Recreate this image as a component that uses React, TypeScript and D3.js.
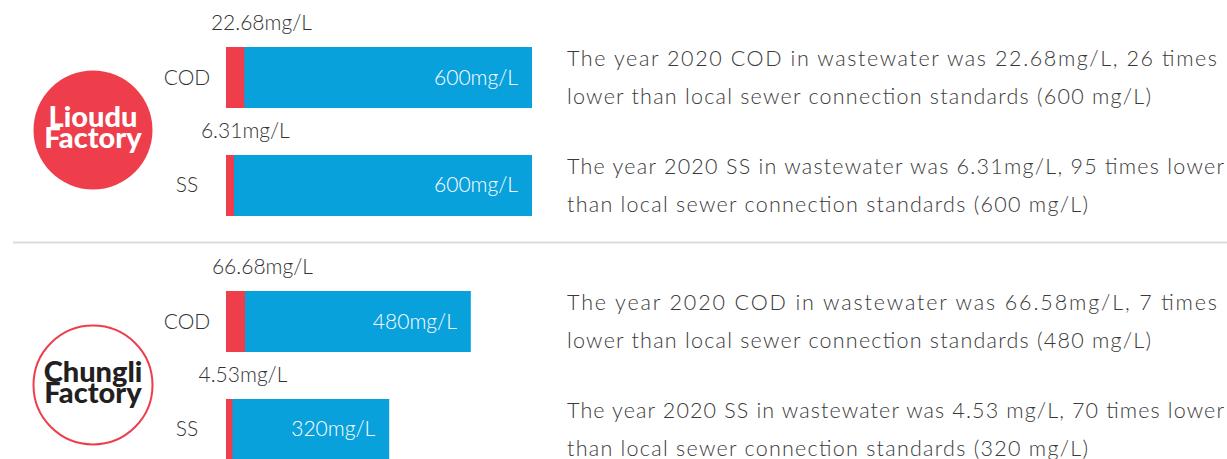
import React from 'react'
import { scaleLinear, scaleBand, scalePow } from 'd3'

// factories and the two measured pollutants
const factories = ['Lioudu Factory', 'Chungli Factory']
const pollutants = ['COD', 'SS']
const measured = [
  [22.68, 6.31],
  [66.68, 4.53],
]
const standards = [
  [600, 600],
  [480, 320],
]
const descriptions = [
  [
    ['The year 2020 COD in wastewater was 22.68mg/L, 26 times', 'lower than local sewer connection standards (600 mg/L)'],
    ['The year 2020 SS in wastewater was 6.31mg/L, 95 times lower', 'than local sewer connection standards (600 mg/L)'],
  ],
  [
    ['The year 2020 COD in wastewater was 66.58mg/L, 7 times', 'lower than local sewer connection standards (480 mg/L)'],
    ['The year 2020 SS in wastewater was 4.53 mg/L, 70 times lower', 'than local sewer connection standards (320 mg/L)'],
  ],
]

const RED = '#EE3E4C'
const BLUE = '#09A1DC'
const FONT = 'Lato, "Open Sans", sans-serif'

function App() {
  const width = 1227,
    height = 459,
    barX = 226,
    labelX = 187,
    textX = 567

  // total bar length for the standard
  const x = scaleLinear().domain([0, 600]).range([0, 306])
  // the measured part is exaggerated so it stays visible
  const red = scalePow().exponent(0.65).domain([0, 24]).range([0, 19]).clamp(true)

  const sectionTop = [47, 291]
  const circleY = [130, 385]
  const small = { fontFamily: FONT, fontSize: 21, fontWeight: 300 }
  // rendered width of each paragraph line (first / second line of the row)
  const lineWidth = [[650, 584], [657, 521]]

  return (
    <div style={{ position: 'absolute', left: 0, top: 0 }}>
      <svg width={width} height={height} style={{ display: 'block', background: '#fff' }}>
        <line x1={13} x2={width} y1={242.5} y2={242.5} stroke='#dcdcdc' strokeWidth={2} />

        {factories.map((f, fi) => {
          const y = scaleBand().domain(pollutants).range([sectionTop[fi], sectionTop[fi] + 169]).paddingInner(0.435)
          const words = f.split(' ')
          const filled = fi === 0
          return (
            <g key={f}>
              <circle cx={93} cy={circleY[fi]} r={59.5}
                fill={filled ? RED : '#fff'} stroke={RED} strokeWidth={filled ? 0 : 2} />
              <text x={93} y={circleY[fi] - 3} textAnchor='middle'
                style={{ fontFamily: FONT, fontWeight: 900, fontSize: 29, fill: filled ? '#fff' : '#231f20' }}>
                {words.map((w, wi) => (
                  <tspan key={w} x={93} dy={wi === 0 ? 0 : 21}>{w}</tspan>
                ))}
              </text>

              {pollutants.map((p, pi) => {
                const y0 = y(p) as number
                const bw = y.bandwidth()
                const total = x(standards[fi][pi])
                const rw = red(measured[fi][pi])
                return (
                  <g key={p}>
                    <text x={labelX} y={y0 + bw / 2 + 7} textAnchor='middle'
                      style={{ ...small, fill: '#333' }}>{p}</text>
                    <text x={barX + 7 + 1.55 * rw} y={y0 - 17} textAnchor='middle'
                      style={{ ...small, fill: '#333' }}>{measured[fi][pi]}mg/L</text>
                    <rect x={barX} y={y0} width={total} height={bw} fill={BLUE} />
                    <rect x={barX} y={y0} width={rw} height={bw} fill={RED} />
                    <text x={barX + total - 14} y={y0 + bw / 2 + 7} textAnchor='end'
                      style={{ ...small, fill: '#fff' }}>{standards[fi][pi]}mg/L</text>
                    {descriptions[fi][pi].map((line, li) => (
                      <text key={li} x={textX} y={y0 + 19 + li * 38}
                        textLength={lineWidth[pi][li]} lengthAdjust='spacing'
                        style={{ fontFamily: FONT, fontSize: 21.5, fontWeight: 300, fill: '#3a3a3a' }}>{line}</text>
                    ))}
                  </g>
                )
              })}
            </g>
          )
        })}
      </svg>
    </div>
  )
}

export default App
